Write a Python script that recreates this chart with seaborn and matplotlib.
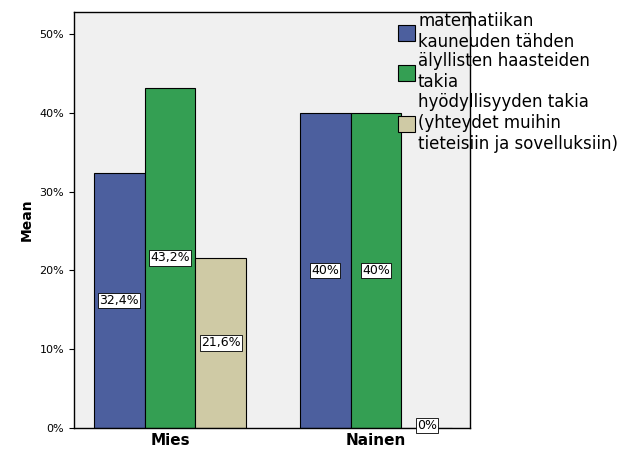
import matplotlib
matplotlib.use("Agg")
import matplotlib.pyplot as plt
import seaborn as sns
import pandas as pd

groups = ["Mies", "Nainen"]
series = ["matematiikan\nkauneuden tähden", "älyllisten haasteiden\ntakia",
          "hyödyllisyyden takia\n(yhteydet muihin\ntieteisiin ja sovelluksiin)"]
values = {"Mies": [32.4, 43.2, 21.6], "Nainen": [40.0, 40.0, 0.0]}
labels = {"Mies": ["32,4%", "43,2%", "21,6%"], "Nainen": ["40%", "40%", "0%"]}
colors = ["#3E58AC", "#22B14C", "#D6CF9E"]

rows = [(g, s, values[g][i]) for g in groups for i, s in enumerate(series)]
df = pd.DataFrame(rows, columns=["g", "s", "v"])

fig = plt.figure(figsize=(6.29, 4.63), dpi=100)
ax = fig.add_axes([74/629, 35/463, 396/629, 416/463])
ax.set_facecolor("#F0F0F0")
sns.barplot(data=df, x="g", y="v", hue="s", palette=colors, width=0.74,
            edgecolor="black", linewidth=0.8, ax=ax, legend=True)
for ci, cont in enumerate(ax.containers):
    for gi, bar in enumerate(cont):
        x = bar.get_x() + bar.get_width()/2
        h = bar.get_height()
        ax.text(x, h/2 if h > 0 else 0.3, labels[groups[gi]][ci], ha="center", va="center",
                fontsize=9, bbox=dict(boxstyle="square,pad=0.1", fc="white", ec="black", lw=0.6))
ax.set_xlim(-0.466, 1.456)
ax.set_ylim(0, 52.8)
ax.set_yticks([0, 10, 20, 30, 40, 50])
ax.set_yticklabels([f"{t}%" for t in [0, 10, 20, 30, 40, 50]], fontsize=8)
ax.set_xlabel("")
ax.set_ylabel("Mean", fontsize=10, fontweight="bold")
ax.tick_params(axis="x", labelsize=11, length=0)
for l in ax.get_xticklabels():
    l.set_fontweight("bold")
ax.legend(loc="upper left", bbox_to_anchor=(398/629, 1 - 12/463), bbox_transform=fig.transFigure,
          frameon=False, fontsize=12, handlelength=1.0, handleheight=1.1, handletextpad=0.2,
          labelspacing=0.1, borderaxespad=0, borderpad=0)
for sp in ax.spines.values():
    sp.set_linewidth(1.0)
fig.savefig("out.png", dpi=100, facecolor="white")
